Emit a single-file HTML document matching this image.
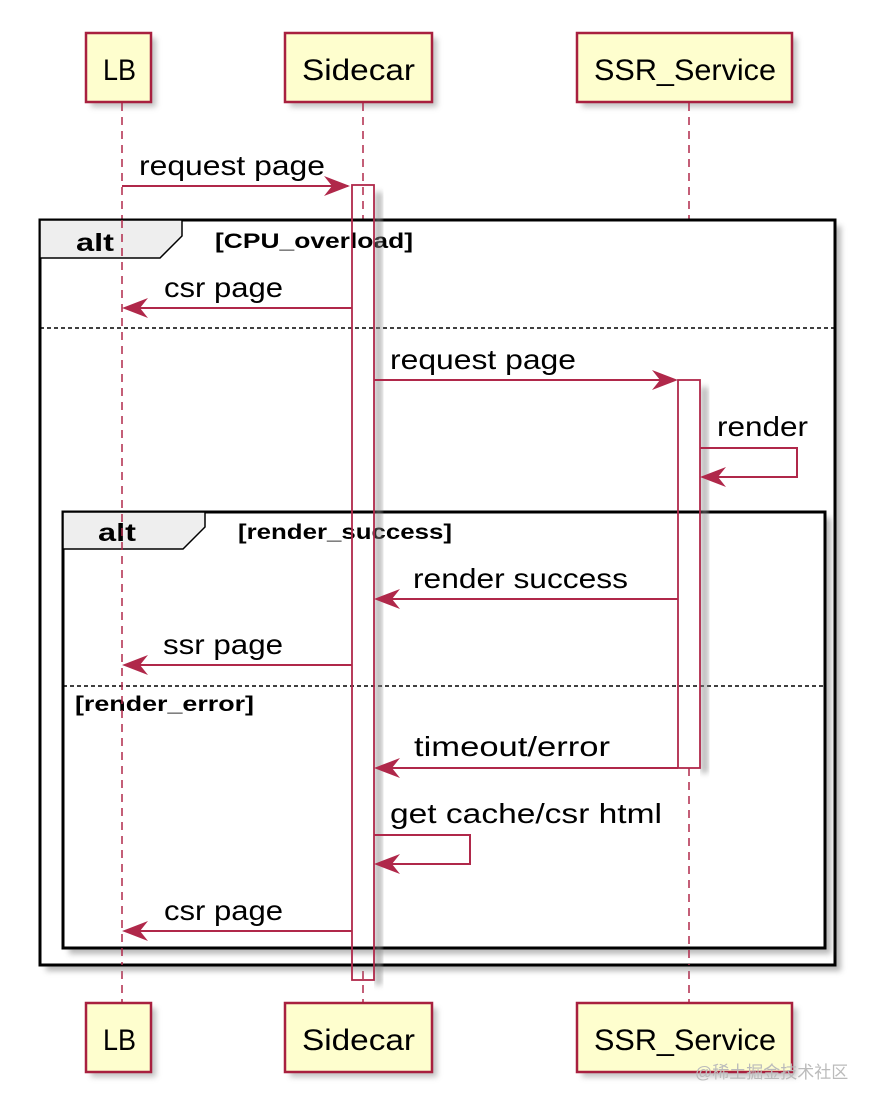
<!DOCTYPE html>
<html><head><meta charset="utf-8"><style>
html,body{margin:0;padding:0;background:#fff;}
svg{display:block;}
text{font-family:"Liberation Sans","Noto Sans CJK SC",sans-serif;}
</style></head><body>
<svg width="880" height="1110" viewBox="0 0 880 1110" xmlns="http://www.w3.org/2000/svg">
<defs>
<filter id="sh" x="-10%" y="-10%" width="130%" height="130%"><feGaussianBlur stdDeviation="3"/></filter>
</defs>
<g fill="#999" filter="url(#sh)" opacity="0.6">
<rect x="91" y="38" width="65" height="69"/><rect x="290" y="38" width="147" height="69"/><rect x="582" y="38" width="215" height="69"/>
<rect x="91" y="1008" width="65" height="69"/><rect x="290" y="1008" width="147" height="69"/><rect x="582" y="1008" width="215" height="69"/>
</g>
<g stroke="#b0284a" stroke-width="1.5" stroke-dasharray="8,6">
<line x1="122" y1="103" x2="122" y2="1002"/>
<line x1="363" y1="103" x2="363" y2="1002"/>
<line x1="689" y1="103" x2="689" y2="1002"/>
</g>
<g fill="#fefece" stroke="#a8203f" stroke-width="2.5">
<rect x="86" y="33" width="65" height="69"/><rect x="285" y="33" width="147" height="69"/><rect x="577" y="33" width="215" height="69"/>
<rect x="86" y="1003" width="65" height="69"/><rect x="285" y="1003" width="147" height="69"/><rect x="577" y="1003" width="215" height="69"/>
</g>
<g font-size="30" fill="#000" lengthAdjust="spacingAndGlyphs">
<text x="103" y="80" textLength="33" lengthAdjust="spacingAndGlyphs">LB</text>
<text x="302" y="80" textLength="113" lengthAdjust="spacingAndGlyphs">Sidecar</text>
<text x="594" y="80" textLength="182" lengthAdjust="spacingAndGlyphs">SSR_Service</text>
<text x="103" y="1050" textLength="33" lengthAdjust="spacingAndGlyphs">LB</text>
<text x="302" y="1050" textLength="113" lengthAdjust="spacingAndGlyphs">Sidecar</text>
<text x="594" y="1050" textLength="182" lengthAdjust="spacingAndGlyphs">SSR_Service</text>
</g>
<rect x="46" y="226" width="795" height="745" fill="#888" filter="url(#sh)" opacity="0.6"/>
<rect x="40" y="220" width="795" height="745" fill="#fff" stroke="#000" stroke-width="3"/>
<path d="M40 220 H182 V236 L160 258 H40 Z" fill="#eee" stroke="#000" stroke-width="1.5"/>
<text x="76" y="251" font-size="25" font-weight="bold" textLength="38" lengthAdjust="spacingAndGlyphs">alt</text>
<text x="215" y="248" font-size="21" font-weight="bold" textLength="198" lengthAdjust="spacingAndGlyphs">[CPU_overload]</text>
<line x1="40" y1="328" x2="835" y2="328" stroke="#000" stroke-width="1.5" stroke-dasharray="4,3"/>
<rect x="69" y="518" width="762" height="436" fill="#888" filter="url(#sh)" opacity="0.6"/>
<rect x="63" y="512" width="762" height="436" fill="#fff" stroke="#000" stroke-width="3"/>
<path d="M63 512 H205 V527 L183 549 H63 Z" fill="#eee" stroke="#000" stroke-width="1.5"/>
<text x="98" y="541" font-size="25" font-weight="bold" textLength="38" lengthAdjust="spacingAndGlyphs">alt</text>
<text x="238" y="539" font-size="21" font-weight="bold" textLength="214" lengthAdjust="spacingAndGlyphs">[render_success]</text>
<line x1="63" y1="686" x2="825" y2="686" stroke="#000" stroke-width="1.5" stroke-dasharray="4,3"/>
<text x="75" y="711" font-size="21" font-weight="bold" textLength="179" lengthAdjust="spacingAndGlyphs">[render_error]</text>
<g stroke="#b0284a" stroke-width="1.5" stroke-dasharray="8,6">
<line x1="122" y1="220" x2="122" y2="965"/>
<line x1="689" y1="768" x2="689" y2="965"/>
</g>
<!-- activation shadows (right stripe) -->
<rect x="375" y="192" width="7" height="793" fill="#888" filter="url(#sh)" opacity="0.6"/>
<rect x="701" y="387" width="7" height="386" fill="#888" filter="url(#sh)" opacity="0.6"/>
<rect x="352" y="185" width="22" height="795" fill="none" stroke="#b0284a" stroke-width="1.8"/>
<rect x="678" y="380" width="22" height="388" fill="none" stroke="#b0284a" stroke-width="1.8"/>
<g stroke="#b0284a" stroke-width="2" fill="none">
<line x1="122" y1="186" x2="348" y2="186"/>
<line x1="352" y1="308" x2="126" y2="308"/>
<line x1="374" y1="380" x2="674" y2="380"/>
<polyline points="700,448 797,448 797,477 704,477"/>
<line x1="678" y1="599" x2="378" y2="599"/>
<line x1="352" y1="665" x2="126" y2="665"/>
<line x1="678" y1="768" x2="378" y2="768"/>
<polyline points="374,835 470,835 470,864 378,864"/>
<line x1="352" y1="931" x2="126" y2="931"/>
</g>
<g fill="#b0284a">
<path d="M350 186 L324 176 L332 186 L324 196 Z"/>
<path d="M122 308 L148 298 L140 308 L148 318 Z"/>
<path d="M678 380 L652 370 L660 380 L652 390 Z"/>
<path d="M700 477 L726 467 L718 477 L726 487 Z"/>
<path d="M374 599 L400 589 L392 599 L400 609 Z"/>
<path d="M122 665 L148 655 L140 665 L148 675 Z"/>
<path d="M374 768 L400 758 L392 768 L400 778 Z"/>
<path d="M374 864 L400 854 L392 864 L400 874 Z"/>
<path d="M122 931 L148 921 L140 931 L148 941 Z"/>
</g>
<g font-size="28" fill="#000">
<text x="139" y="175" textLength="186" lengthAdjust="spacingAndGlyphs">request page</text>
<text x="164" y="297" textLength="119" lengthAdjust="spacingAndGlyphs">csr page</text>
<text x="390" y="369" textLength="186" lengthAdjust="spacingAndGlyphs">request page</text>
<text x="717" y="436" textLength="91" lengthAdjust="spacingAndGlyphs">render</text>
<text x="413" y="588" textLength="215" lengthAdjust="spacingAndGlyphs">render success</text>
<text x="163" y="654" textLength="120" lengthAdjust="spacingAndGlyphs">ssr page</text>
<text x="414" y="756" textLength="196" lengthAdjust="spacingAndGlyphs">timeout/error</text>
<text x="390" y="823" textLength="272" lengthAdjust="spacingAndGlyphs">get cache/csr html</text>
<text x="164" y="920" textLength="119" lengthAdjust="spacingAndGlyphs">csr page</text>
</g>
<text x="695" y="1078" font-size="17" fill="#bbb">@稀土掘金技术社区</text>
</svg>
</body></html>
